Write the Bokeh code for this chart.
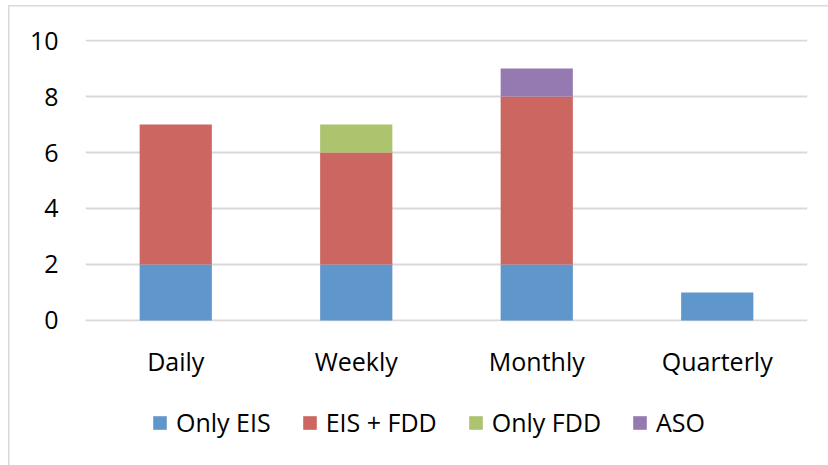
from bokeh.plotting import figure
from bokeh.layouts import column
from bokeh.models import FactorRange, Range1d, Legend, LegendItem, FixedTicker
from bokeh.embed import file_html
from bokeh.resources import INLINE

categories = ["Daily", "Weekly", "Monthly", "Quarterly"]
series_names = ["Only EIS", "EIS + FDD", "Only FDD", "ASO"]
only_eis = [2, 2, 2, 1]
eis_fdd = [5, 4, 6, 0]
only_fdd = [0, 1, 0, 0]
aso = [0, 0, 1, 0]
colors = ["#5F96CB", "#CC6660", "#ABC46D", "#957AB1"]
y_ticks = [0, 2, 4, 6, 8, 10]

FONT = "Open Sans"
FS = "25px"
GRID = "#D9D9D9"

data = {"cat": categories, "Only EIS": only_eis, "EIS + FDD": eis_fdd,
        "Only FDD": only_fdd, "ASO": aso}

p = figure(x_range=FactorRange(*categories), y_range=Range1d(-0.04, 10.04),
           width=828, height=390, output_backend="svg", toolbar_location=None,
           min_border_left=85, min_border_right=21, min_border_top=39, min_border_bottom=69)

renderers = p.vbar_stack(series_names, x="cat", width=0.4, color=colors, source=data,
                         line_color=None)

p.x_range.range_padding = 0
p.outline_line_color = None
p.xgrid.grid_line_color = None
p.ygrid.grid_line_color = GRID
p.ygrid.grid_line_width = 2
p.yaxis.ticker = FixedTicker(ticks=y_ticks)
p.border_fill_alpha = 0
p.background_fill_color = "white"
p.styles = {
    "background-color": "white",
    "background-image": f"linear-gradient({GRID},{GRID}), linear-gradient({GRID},{GRID})",
    "background-size": "1.5px 100%, 100% 1.5px",
    "background-position": "8px 5px, 8px 5px",
    "background-repeat": "no-repeat",
}

for ax in (p.xaxis[0], p.yaxis[0]):
    ax.axis_line_color = None
    ax.major_tick_line_color = None
    ax.minor_tick_line_color = None
    ax.major_label_text_font = FONT
    ax.major_label_text_font_size = FS
    ax.major_label_text_color = "#000000"
p.yaxis.major_label_standoff = 21
p.xaxis.major_label_standoff = 16

# Legend strip below the chart (swatches are zero-size bars, legend shows their colours)
lg = figure(width=828, height=75, output_backend="svg", toolbar_location=None,
            x_range=Range1d(0, 1), y_range=Range1d(0, 1),
            x_axis_location=None, y_axis_location=None,
            min_border_left=0, min_border_right=0, min_border_top=0, min_border_bottom=0)
lg.outline_line_color = None
lg.grid.grid_line_color = None
lg.border_fill_alpha = 0
lg.background_fill_alpha = 0
lg.styles = {
    "background-color": "white",
    "background-image": f"linear-gradient({GRID},{GRID})",
    "background-size": "1.5px 100%",
    "background-position": "8px 0px",
    "background-repeat": "no-repeat",
}
swatches = [lg.vbar(x=[0], top=[0], width=0, fill_color=c, line_color=None) for c in colors]
legend = Legend(items=[LegendItem(label=n, renderers=[r]) for n, r in zip(series_names, swatches)],
                orientation="horizontal", location=(66, 26),
                label_text_font=FONT, label_text_font_size=FS, label_text_color="#000000",
                glyph_width=17, glyph_height=17, label_standoff=8, spacing=30,
                border_line_color=None, background_fill_alpha=0, padding=0, margin=0)
lg.add_layout(legend, "center")

layout = column(p, lg, spacing=0)
open("out.html", "w").write(file_html(layout, INLINE))
